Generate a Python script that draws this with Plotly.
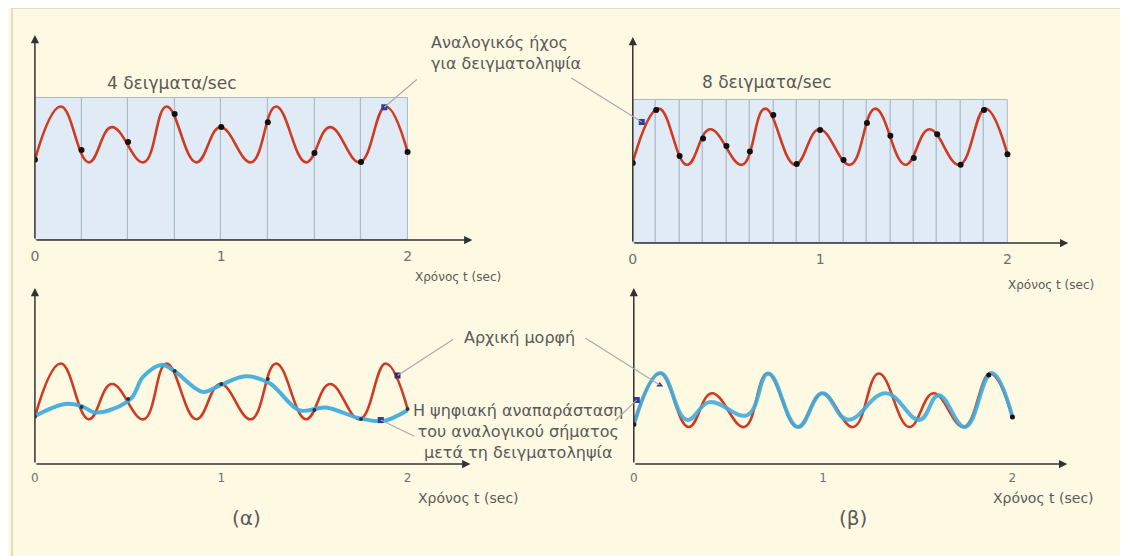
import plotly.graph_objects as go

W, H = 1128, 556
OFF = 8  # page body margin: the figure starts 8px in from the window edge

# ---------------- data ----------------
# original analog signal: extrema points (time in sec, level in arbitrary units)
red_t = [0, 0.139, 0.289, 0.412, 0.583, 0.706, 0.866, 0.995, 1.16, 1.294, 1.455, 1.583, 1.743, 1.882, 2.0]
red_v = [5.65, 9.4, 5.47, 7.95, 5.47, 9.4, 5.47, 7.95, 5.47, 9.4, 5.47, 7.95, 5.47, 9.4, 6.2]

# samples, 4 per second
s4_t = [0, 0.25, 0.5, 0.75, 1.0, 1.25, 1.5, 1.75, 2.0]
s4_v = [5.65, 6.34, 6.9, 8.87, 7.96, 8.3, 6.13, 5.49, 6.2]

# samples, 8 per second
s8_t = [0, 0.125, 0.25, 0.375, 0.5, 0.625, 0.75, 0.875, 1.0, 1.125, 1.25, 1.375, 1.5, 1.625, 1.75, 1.875, 2.0]
s8_v = [5.6, 9.3, 6.08, 7.3, 6.78, 6.4, 8.95, 5.52, 7.9, 5.8, 8.4, 7.5, 5.95, 7.6, 5.47, 9.3, 6.2]

# sampling intervals (shaded boxes)
box4_left = [0, 0.25, 0.5, 0.75, 1.0, 1.25, 1.5, 1.75]
box4_h = [10, 10, 10, 10, 10, 10, 10, 10]
box8_left = [0, 0.125, 0.25, 0.375, 0.5, 0.625, 0.75, 0.875, 1.0, 1.125, 1.25, 1.375, 1.5, 1.625, 1.75, 1.875]
box8_h = [10, 10, 10, 10, 10, 10, 10, 10, 10, 10, 10, 10, 10, 10, 10, 10]

# digital reconstruction after sampling at 4/sec
b4_t = [0, 0.16, 0.25, 0.32, 0.42, 0.52, 0.58, 0.68, 0.75, 0.9, 1.0, 1.13, 1.26, 1.42, 1.56, 1.74, 1.87, 2.0]
b4_v = [5.7, 6.55, 6.4, 5.95, 6.2, 7.0, 8.45, 9.3, 8.85, 7.4, 7.9, 8.5, 8.0, 6.1, 6.3, 5.55, 5.35, 6.1]

# digital reconstruction after sampling at 8/sec
b8_t = [0, 0.14, 0.28, 0.40, 0.60, 0.71, 0.866, 0.995, 1.13, 1.33, 1.51, 1.61, 1.75, 1.89, 2.0]
b8_v = [5.65, 9.45, 6.0, 7.3, 6.35, 9.4, 5.47, 7.95, 6.0, 7.95, 6.0, 7.8, 5.47, 9.45, 6.2]

# highlighted points that the callouts point to
ptr_tl = ([1.875], [9.35])
ptr_tr = ([0.048], [8.46])
ptr_bl_dark = ([1.946], [8.55])
ptr_bl_blue = ([1.856], [5.42])
ptr_br_blue = ([0.016], [7.46])
ptr_br_dark = ([0.137], [8.56])
br_dots = ([0, 1.875, 2.0], [5.65, 9.3, 6.2])

tick_vals = [0, 1, 2]
tick_text = ["0", "1", "2"]

# ---------------- styling ----------------
RED = "#CF3B22"
BLUE = "#43ADDC"
TXT = "#5a5a5a"
AX = "#333333"
FONT = "DejaVu Sans, Verdana, sans-serif"
BG = "#FEF9E2"


def px(x):
    return (x - OFF) / W


def py(y):
    return 1 - (y - OFF) / H


# panel geometry in window pixels: x from..to, y bottom..top, data ranges
panels = {
    "tl": dict(xd=(31, 470), yd=(240, 35), xr=(0, 439 / 187), yr=(0, 205 / 14.2)),
    "tr": dict(xd=(631, 1068), yd=(243, 37), xr=(0, 437 / 188), yr=(0, 206 / 14.3)),
    "bl": dict(xd=(31, 468), yd=(464, 288), xr=(0, 437 / 187), yr=(2.32, 2.32 + 176 / 14.2)),
    "br": dict(xd=(632, 1067), yd=(464, 288), xr=(0, 435 / 190), yr=(2.75, 2.75 + 176 / 13.6)),
}
axis_ids = {"tl": ("x", "y"), "tr": ("x2", "y2"), "bl": ("x3", "y3"), "br": ("x4", "y4")}

fig = go.Figure()

# shaded sampling boxes
fig.add_trace(go.Bar(x=box4_left, y=box4_h, width=0.25, offset=0,
                     marker=dict(color="#E1EBF5", line=dict(color="#A7B8C9", width=1)),
                     xaxis="x", yaxis="y", hoverinfo="skip"))
fig.add_trace(go.Bar(x=box8_left, y=box8_h, width=0.125, offset=0,
                     marker=dict(color="#E1EBF5", line=dict(color="#A7B8C9", width=1)),
                     xaxis="x2", yaxis="y2", hoverinfo="skip"))

# red original signal in every panel
for k in ["tl", "tr", "bl", "br"]:
    xa, ya = axis_ids[k]
    fig.add_trace(go.Scatter(x=red_t, y=red_v, mode="lines",
                             line=dict(color=RED, width=2.6, shape="spline", smoothing=1.2),
                             xaxis=xa, yaxis=ya, hoverinfo="skip"))

# blue reconstructions
fig.add_trace(go.Scatter(x=b4_t, y=b4_v, mode="lines",
                         line=dict(color=BLUE, width=4, shape="spline", smoothing=1.0),
                         opacity=0.95, xaxis="x3", yaxis="y3", hoverinfo="skip"))
fig.add_trace(go.Scatter(x=b8_t, y=b8_v, mode="lines",
                         line=dict(color=BLUE, width=4, shape="spline", smoothing=1.2),
                         opacity=0.9, xaxis="x4", yaxis="y4", hoverinfo="skip"))

# sample dots
fig.add_trace(go.Scatter(x=s4_t, y=s4_v, mode="markers", marker=dict(color="#111", size=6),
                         xaxis="x", yaxis="y", hoverinfo="skip"))
fig.add_trace(go.Scatter(x=s8_t, y=s8_v, mode="markers", marker=dict(color="#111", size=6),
                         xaxis="x2", yaxis="y2", hoverinfo="skip"))
fig.add_trace(go.Scatter(x=s4_t, y=s4_v, mode="markers", marker=dict(color="#2d3440", size=4),
                         xaxis="x3", yaxis="y3", hoverinfo="skip"))
fig.add_trace(go.Scatter(x=br_dots[0], y=br_dots[1], mode="markers", marker=dict(color="#111", size=5),
                         xaxis="x4", yaxis="y4", hoverinfo="skip"))

# callout target markers
for (pt, xa, ya, col, sym) in [
    (ptr_tl, "x", "y", "#2B3C9C", "square"),
    (ptr_tr, "x2", "y2", "#2B3C9C", "square"),
    (ptr_bl_dark, "x3", "y3", "#3A2B5C", "square"),
    (ptr_bl_blue, "x3", "y3", "#2B3C9C", "square"),
    (ptr_br_blue, "x4", "y4", "#2B3C9C", "square"),
    (ptr_br_dark, "x4", "y4", "#2B3C9C", "triangle-up"),
]:
    fig.add_trace(go.Scatter(x=pt[0], y=pt[1], mode="markers",
                             marker=dict(color=col, size=6, symbol=sym),
                             xaxis=xa, yaxis=ya, hoverinfo="skip"))

layout = dict(
    width=W, height=H, margin=dict(l=0, r=0, t=0, b=0),
    paper_bgcolor=BG, plot_bgcolor="rgba(0,0,0,0)",
    showlegend=False, font=dict(family=FONT, color=TXT),
    bargap=0,
)

annotations = []
for k, p in panels.items():
    xa, ya = axis_ids[k]
    xname = "xaxis" + xa[1:]
    yname = "yaxis" + ya[1:]
    bottom = k in ("bl", "br")
    layout[xname] = dict(domain=[px(p["xd"][0]), px(p["xd"][1])], range=list(p["xr"]),
                         anchor=ya, showgrid=False, zeroline=False, showline=False,
                         tickvals=tick_vals, ticktext=tick_text, ticks="",
                         tickfont=dict(size=12 if bottom else 14, color="#707070"),
                         ticklabelstandoff=5 if bottom else 6, fixedrange=True)
    layout[yname] = dict(domain=[py(p["yd"][0]), py(p["yd"][1])], range=list(p["yr"]),
                         anchor=xa, showgrid=False, zeroline=False, showline=False,
                         showticklabels=False, fixedrange=True)
    # axis arrows
    annotations.append(dict(x=p["xr"][1], y=p["yr"][0], ax=0, ay=p["yr"][0], xref=xa, yref=ya,
                            axref=xa, ayref=ya, text="", showarrow=True, arrowhead=2,
                            arrowsize=1.1, arrowwidth=1.5, arrowcolor=AX))
    annotations.append(dict(x=0, y=p["yr"][1], ax=0, ay=p["yr"][0], xref=xa, yref=ya,
                            axref=xa, ayref=ya, text="", showarrow=True, arrowhead=2,
                            arrowsize=1.1, arrowwidth=1.5, arrowcolor=AX))

fig.update_layout(**layout)


def txt(x, y, s, size, xanchor="center", align="center"):
    annotations.append(dict(x=px(x), y=py(y), xref="paper", yref="paper", text=s,
                            showarrow=False, xanchor=xanchor, yanchor="middle", align=align,
                            font=dict(size=size, color=TXT, family=FONT)))


txt(168, 83, "4 δειγματα/sec", 17)
txt(765, 82, "8 δειγματα/sec", 17)
txt(426, 53, "Αναλογικός ήχος<br>για δειγματοληψία", 16, xanchor="left", align="left")
txt(410, 277, "Χρόνος t (sec)", 12, xanchor="left")
txt(1006, 285, "Χρόνος t (sec)", 12, xanchor="left")
txt(413, 498, "Χρόνος t (sec)", 14, xanchor="left")
txt(990, 498, "Χρόνος t (sec)", 14, xanchor="left")
txt(517, 337, "Αρχική μορφή", 16)
txt(516, 431, "Η ψηφιακή αναπαράσταση<br>του αναλογικού σήματος<br>μετά τη δειγματοληψία", 16)
txt(243, 518, "(α)", 20)
txt(852, 518, "(β)", 20)


def pointer(pt, xa, ya, ax, ay):
    annotations.append(dict(x=pt[0][0], y=pt[1][0], xref=xa, yref=ya, ax=ax, ay=ay,
                            text="", showarrow=True, arrowhead=0, arrowwidth=1.1,
                            arrowcolor="#A9A9A9"))


pointer(ptr_tl, "x", "y", 34, -29)
pointer(ptr_tr, "x2", "y2", -72, -45)
pointer(ptr_bl_dark, "x3", "y3", 57, -37)
pointer(ptr_br_dark, "x4", "y4", -76, -48)
pointer(ptr_bl_blue, "x3", "y3", 35, 17)
pointer(ptr_br_blue, "x4", "y4", -23, 22)

fig.update_layout(
    annotations=annotations,
    shapes=[dict(type="rect", xref="paper", yref="paper", x0=0, x1=1, y0=0, y1=1,
                 fillcolor="rgba(0,0,0,0)", line=dict(color="#D6D3C4", width=1.5), layer="below")],
)

fig.write_html("out.html")
